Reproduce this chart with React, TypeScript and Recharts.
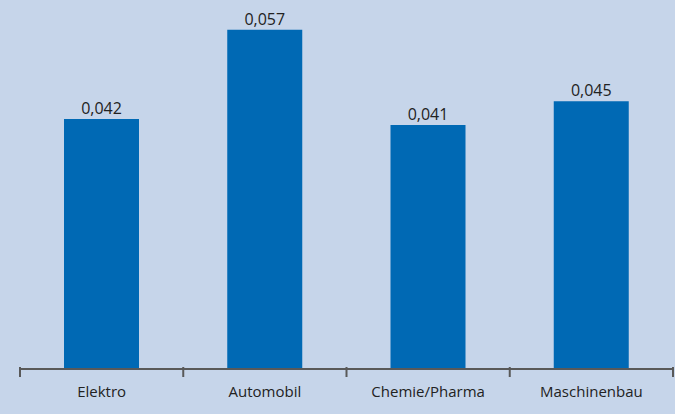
import { BarChart, Bar, XAxis, YAxis, LabelList } from 'recharts';

// branch names and their values
const categories = ['Elektro', 'Automobil', 'Chemie/Pharma', 'Maschinenbau'];
const values = [0.042, 0.057, 0.041, 0.045];

const chartData = categories.map((name, i) => ({ name, value: values[i] }));

const W = 675;
const H = 414;
const MARGIN = { top: 12, right: 2, left: 20, bottom: 15 };
const HALF_BAND = (W - MARGIN.left - MARGIN.right) / categories.length / 2;

const fmt = (v: any) => String(v).replace('.', ',');

// tick text at the centre, tick marks at the category borders
const BorderTick = (props: any) => {
  const { x, y, payload, index } = props;
  const top = y - 9;
  return (
    <g>
      <line x1={x - HALF_BAND} y1={top - 1} x2={x - HALF_BAND} y2={top + 9} stroke="#595959" strokeWidth={2} />
      {index === categories.length - 1 && (
        <line x1={x + HALF_BAND} y1={top - 1} x2={x + HALF_BAND} y2={top + 9} stroke="#595959" strokeWidth={2} />
      )}
      <text x={x} y={top + 18} dy="0.71em" textAnchor="middle" fill="#222" fontSize={15} fontWeight={500} fontFamily="'Open Sans', sans-serif">
        {payload.value}
      </text>
    </g>
  );
};

export default function App() {
  return (
    <div style={{ position: 'fixed', top: 0, left: 0, width: W, height: H, background: '#c6d5ea' }}>
      <BarChart width={W} height={H} data={chartData} margin={MARGIN} barSize={75}>
        <YAxis hide domain={[0, 0.06]} />
        <XAxis
          dataKey="name"
          height={30}
          tickLine={false}
          axisLine={{ stroke: '#595959', strokeWidth: 2 }}
          tick={<BorderTick />}
          interval={0}
        />
        <Bar dataKey="value" fill="#0069b4" isAnimationActive={false}>
          <LabelList
            dataKey="value"
            position="top"
            offset={5}
            formatter={fmt}
            fill="#222"
            fontSize={16}
            fontWeight={500}
            fontFamily="'Open Sans', sans-serif"
          />
        </Bar>
      </BarChart>
    </div>
  );
}
